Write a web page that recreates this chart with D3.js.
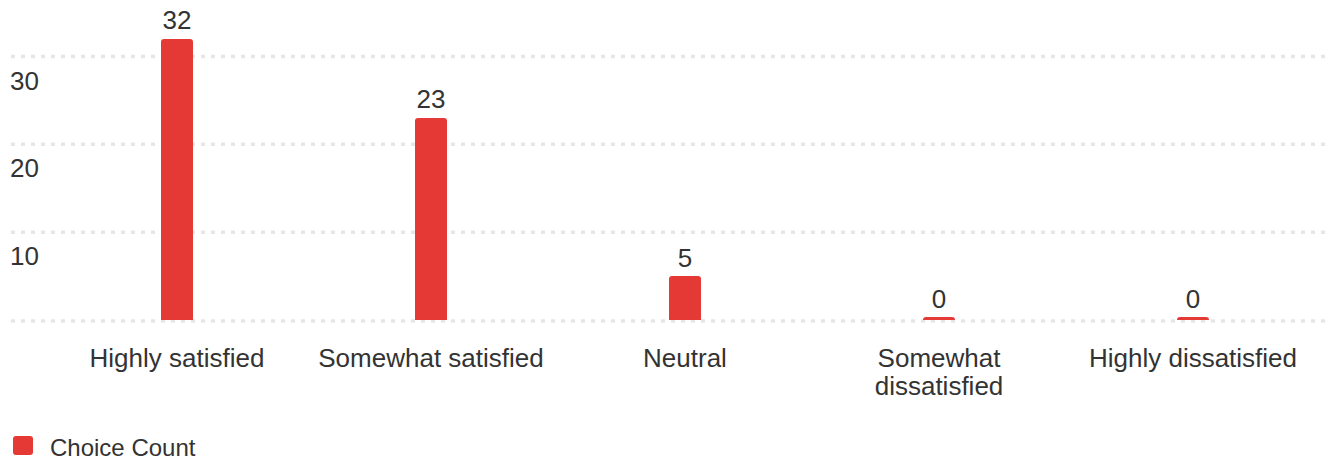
<!DOCTYPE html>
<html>
<head>
<meta charset="utf-8">
<script src="https://cdn.jsdelivr.net/npm/d3@7"></script>
<style>
  html, body { margin: 0; padding: 0; background: #fff; }
  svg { display: block; font-family: "Liberation Sans", Arial, sans-serif; }
</style>
</head>
<body>
<svg id="chart" width="1325" height="461"></svg>
<script>
const categories = ["Highly satisfied", "Somewhat satisfied", "Neutral", "Somewhat dissatisfied", "Highly dissatisfied"];
const values = [32, 23, 5, 0, 0];
const yTicks = [0, 10, 20, 30];
const seriesName = "Choice Count";

const W = 1325, H = 461;
const barColor = "#e53935";
const textColor = "#333333";
const svg = d3.select("#chart");

const x = d3.scaleBand().domain(categories).range([50, 1320]);
const y = d3.scaleLinear().domain([0, 30]).range([320, 56.5]);
const barW = 32;

// gridlines
svg.append("g").selectAll("line").data(yTicks).join("line")
  .attr("x1", 11).attr("x2", W)
  .attr("y1", d => y(d) + (d === 0 ? 1 : 0))
  .attr("y2", d => y(d) + (d === 0 ? 1 : 0))
  .attr("stroke", "#e6e6e6").attr("stroke-width", 3.5)
  .attr("stroke-dasharray", "4,6");

// y tick labels (below their gridlines)
svg.append("g").selectAll("text").data(yTicks.filter(d => d > 0)).join("text")
  .attr("x", 10).attr("y", d => y(d) + 33)
  .attr("fill", textColor).attr("font-size", 26)
  .text(d => d);

// bars
const minH = 3;
svg.append("g").selectAll("path").data(values).join("path")
  .attr("fill", barColor)
  .attr("d", (d, i) => {
    const cx = x(categories[i]) + x.bandwidth() / 2;
    const x0 = cx - barW / 2;
    const top = Math.min(y(d), y(0) - minH);
    const bot = y(0);
    const r = Math.min(3, (bot - top));
    return `M${x0},${bot} L${x0},${top + r} Q${x0},${top} ${x0 + r},${top} L${x0 + barW - r},${top} Q${x0 + barW},${top} ${x0 + barW},${top + r} L${x0 + barW},${bot} Z`;
  });

// value labels
svg.append("g").selectAll("text").data(values).join("text")
  .attr("x", (d, i) => x(categories[i]) + x.bandwidth() / 2)
  .attr("y", d => Math.min(y(d), y(0) - minH) - 9.5)
  .attr("text-anchor", "middle")
  .attr("fill", textColor).attr("font-size", 26)
  .text(d => d);

// category labels with wrapping
const maxW = 240;
const catG = svg.append("g");
categories.forEach(c => {
  const cx = x(c) + x.bandwidth() / 2;
  const t = catG.append("text")
    .attr("x", cx).attr("y", 367)
    .attr("text-anchor", "middle")
    .attr("fill", textColor).attr("font-size", 26);
  const words = c.split(" ");
  let line = [];
  let tspan = t.append("tspan").attr("x", cx).attr("dy", 0);
  let lineNo = 0;
  words.forEach(w => {
    line.push(w);
    tspan.text(line.join(" "));
    if (tspan.node().getComputedTextLength() > maxW && line.length > 1) {
      line.pop();
      tspan.text(line.join(" "));
      line = [w];
      lineNo++;
      tspan = t.append("tspan").attr("x", cx).attr("dy", 28).text(w);
    }
  });
});

// legend
const lg = svg.append("g");
lg.append("rect").attr("x", 13).attr("y", 436).attr("width", 20).attr("height", 19)
  .attr("rx", 3).attr("fill", barColor);
lg.append("text").attr("x", 50).attr("y", 456)
  .attr("fill", textColor).attr("font-size", 24).text(seriesName);
</script>
</body>
</html>
